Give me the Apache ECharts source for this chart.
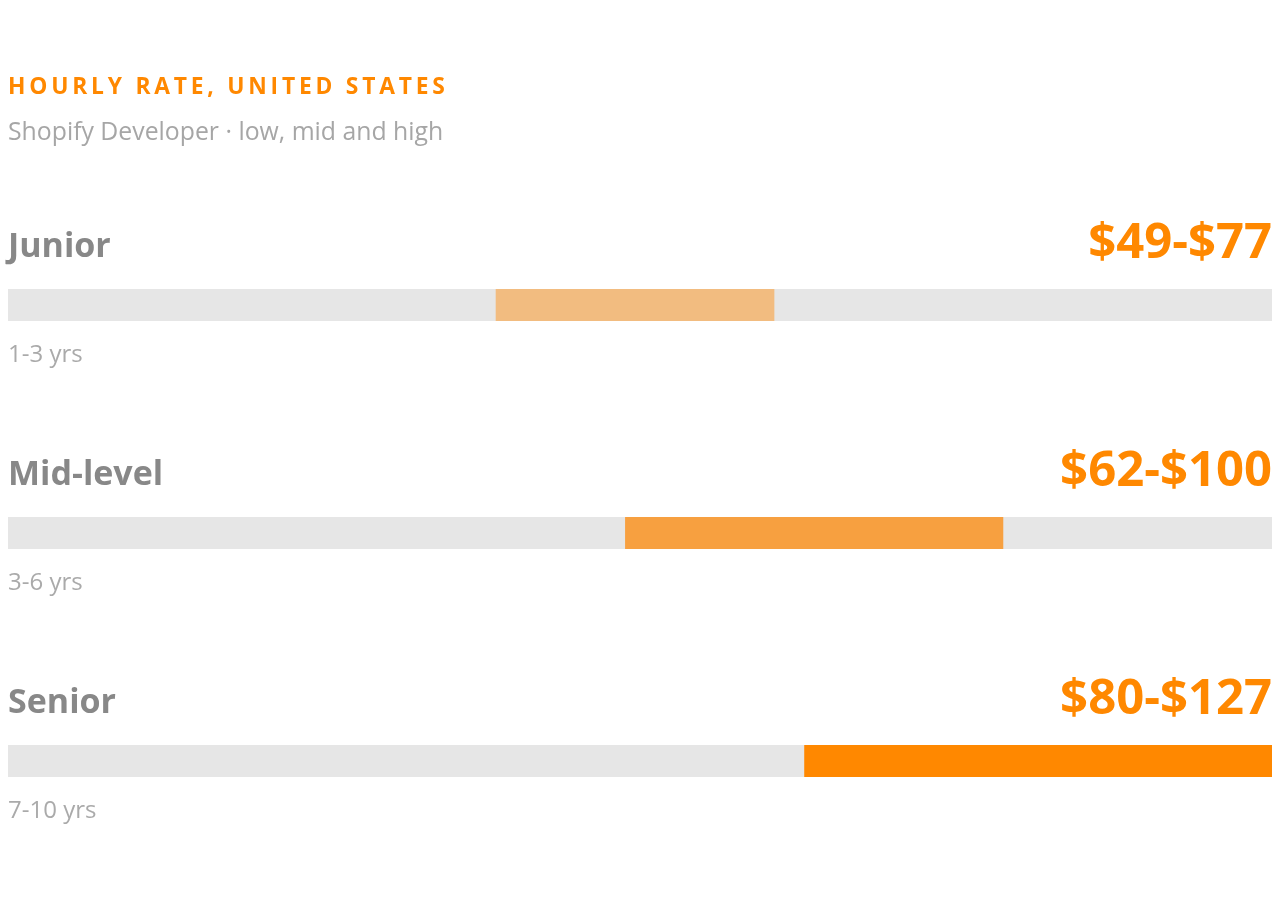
<!DOCTYPE html>
<html>
<head>
<meta charset="utf-8">
<script src="https://cdn.jsdelivr.net/npm/echarts@6/dist/echarts.min.js"></script>
<style>
html,body{margin:0;padding:0;background:#fff;}
#c{width:1280px;height:920px;}
</style>
</head>
<body>
<div id="c"></div>
<script>
const levels = ['Junior', 'Mid-level', 'Senior'];
const years = ['1-3 yrs', '3-6 yrs', '7-10 yrs'];
const lowRates = [49, 62, 80];
const highRates = [77, 100, 127];
const barColors = ['#F2BC80', '#F7A040', '#FF8800'];
const titleText = 'HOURLY RATE, UNITED STATES';
const subtitleText = 'Shopify Developer · low, mid and high';

const FONT = '"Open Sans", "Noto Sans", sans-serif';
const spaced = titleText.split('').join('\u2009');

const chart = echarts.init(document.getElementById('c'));
const option = {
  animation: false,
  backgroundColor: '#fff',
  grid: { left: 8, right: 8, top: 191, height: 684, containLabel: false },
  xAxis: { type: 'value', min: 0, max: 'dataMax', show: false },
  yAxis: { type: 'category', data: levels, inverse: true, show: false },
  series: [
    {
      type: 'bar', stack: 'r', data: lowRates, barWidth: 32,
      itemStyle: { color: 'rgba(0,0,0,0)' }, silent: true,
      showBackground: true, backgroundStyle: { color: '#E6E6E6' }
    },
    {
      type: 'bar', stack: 'r', barWidth: 32,
      data: highRates.map((h, i) => ({ value: h - lowRates[i], itemStyle: { color: barColors[i] } }))
    }
  ]
};
chart.setOption(option);

const elements = [
  { type: 'text', x: 8, y: 88,
    style: { text: spaced, fill: '#FF8800', font: 'bold 22.8px ' + FONT, textAlign: 'left', textVerticalAlign: 'middle' } },
  { type: 'text', x: 8, y: 133,
    style: { text: subtitleText, fill: '#A6A6A6', font: '24.8px ' + FONT, textAlign: 'left', textVerticalAlign: 'middle' } }
];
levels.forEach((lv, i) => {
  const y = chart.convertToPixel({ yAxisIndex: 0 }, lv);
  const x0 = chart.convertToPixel({ xAxisIndex: 0 }, 0);
  const x1 = chart.convertToPixel({ xAxisIndex: 0 }, highRates[highRates.length - 1]);
  elements.push({
    type: 'text', x: x0, y: y - 58,
    style: { text: lv, fill: '#888888', font: 'bold 34px ' + FONT, textAlign: 'left', textVerticalAlign: 'middle' }
  });
  elements.push({
    type: 'text', x: x1, y: y - 61,
    style: { text: '$' + lowRates[i] + '-$' + highRates[i], fill: '#FF8800', font: 'bold 49px ' + FONT, textAlign: 'right', textVerticalAlign: 'middle' }
  });
  elements.push({
    type: 'text', x: x0, y: y + 50,
    style: { text: years[i], fill: '#AAAAAA', font: '24px ' + FONT, textAlign: 'left', textVerticalAlign: 'middle' }
  });
});
chart.setOption({ graphic: { elements } });
</script>
</body>
</html>
